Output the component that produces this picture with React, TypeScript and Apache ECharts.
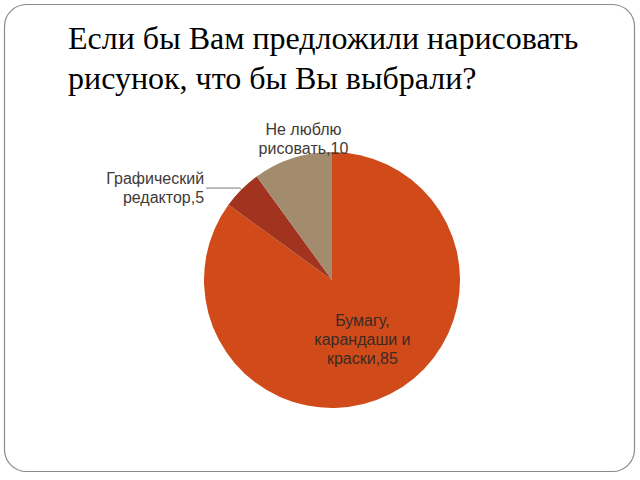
import React, { useEffect, useRef } from "react";
import * as echarts from "echarts";

const titleLines = ["Если бы Вам предложили нарисовать", "рисунок, что бы Вы выбрали?"];
const categories = ["Бумагу, карандаши и краски", "Графический редактор", "Не люблю рисовать"];
const labelTexts = ["Бумагу,\nкарандаши и\nкраски,85", "Графический\nредактор,5", "Не люблю\nрисовать,10"];
const values = [85, 5, 10];
const colors = ["#D04A1A", "#A2341F", "#A38B6D"];

export default function App() {
  const ref = useRef<HTMLDivElement>(null);
  useEffect(() => {
    if (!ref.current) return;
    const chart = echarts.init(ref.current, undefined, { renderer: "svg" });
    const data = values.map((v, i) => {
      const item: any = { name: categories[i], value: v, itemStyle: { color: colors[i] } };
      if (i === 0) {
        item.label = { position: "inside", formatter: labelTexts[i], color: "#3a2a24" };
      } else if (i === 1) {
        item.label = { position: "outside", formatter: labelTexts[i], distanceToLabelLine: 2 };
        item.labelLine = { show: true, length: 2, length2: 34, lineStyle: { color: "#7a7a7a", width: 1 } };
      } else {
        item.label = { position: "outside", formatter: labelTexts[i] };
        item.labelLine = { show: false, length: 2, length2: 2 };
      }
      return item;
    });
    chart.setOption({
      animation: false,
      backgroundColor: "#ffffff",
      title: {
        text: titleLines.join("\n"),
        left: 63,
        top: 13,
        textStyle: {
          fontFamily: "Liberation Serif",
          fontSize: 32,
          fontWeight: "normal",
          color: "#000000",
          lineHeight: 40,
        },
      },
      graphic: [
        {
          type: "rect",
          shape: { x: 4.5, y: 4.5, width: 630, height: 467, r: 22 },
          style: { fill: "none", stroke: "#8a8a8a", lineWidth: 1.2 },
          silent: true,
        },
      ],
      series: [
        {
          type: "pie",
          center: [332, 280],
          radius: [0, 128],
          startAngle: 90,
          clockwise: true,
          avoidLabelOverlap: false,
          data,
          label: {
            fontFamily: "Liberation Sans",
            fontSize: 16,
            lineHeight: 19,
            color: "#3f3a38",
            align: "center",
          },
          labelLayout: (params: any) => {
            if (params.dataIndex === 2 && params.labelLinePoints) {
              const p = params.labelLinePoints[0];
              return { x: p[0] + 11, y: p[1] - 19, align: "center", verticalAlign: "middle" };
            }
            return {};
          },
        },
      ],
    });
    return () => chart.dispose();
  }, []);
  return (
    <div
      ref={ref}
      style={{ position: "fixed", left: 0, top: 0, width: 640, height: 480 }}
    />
  );
}
